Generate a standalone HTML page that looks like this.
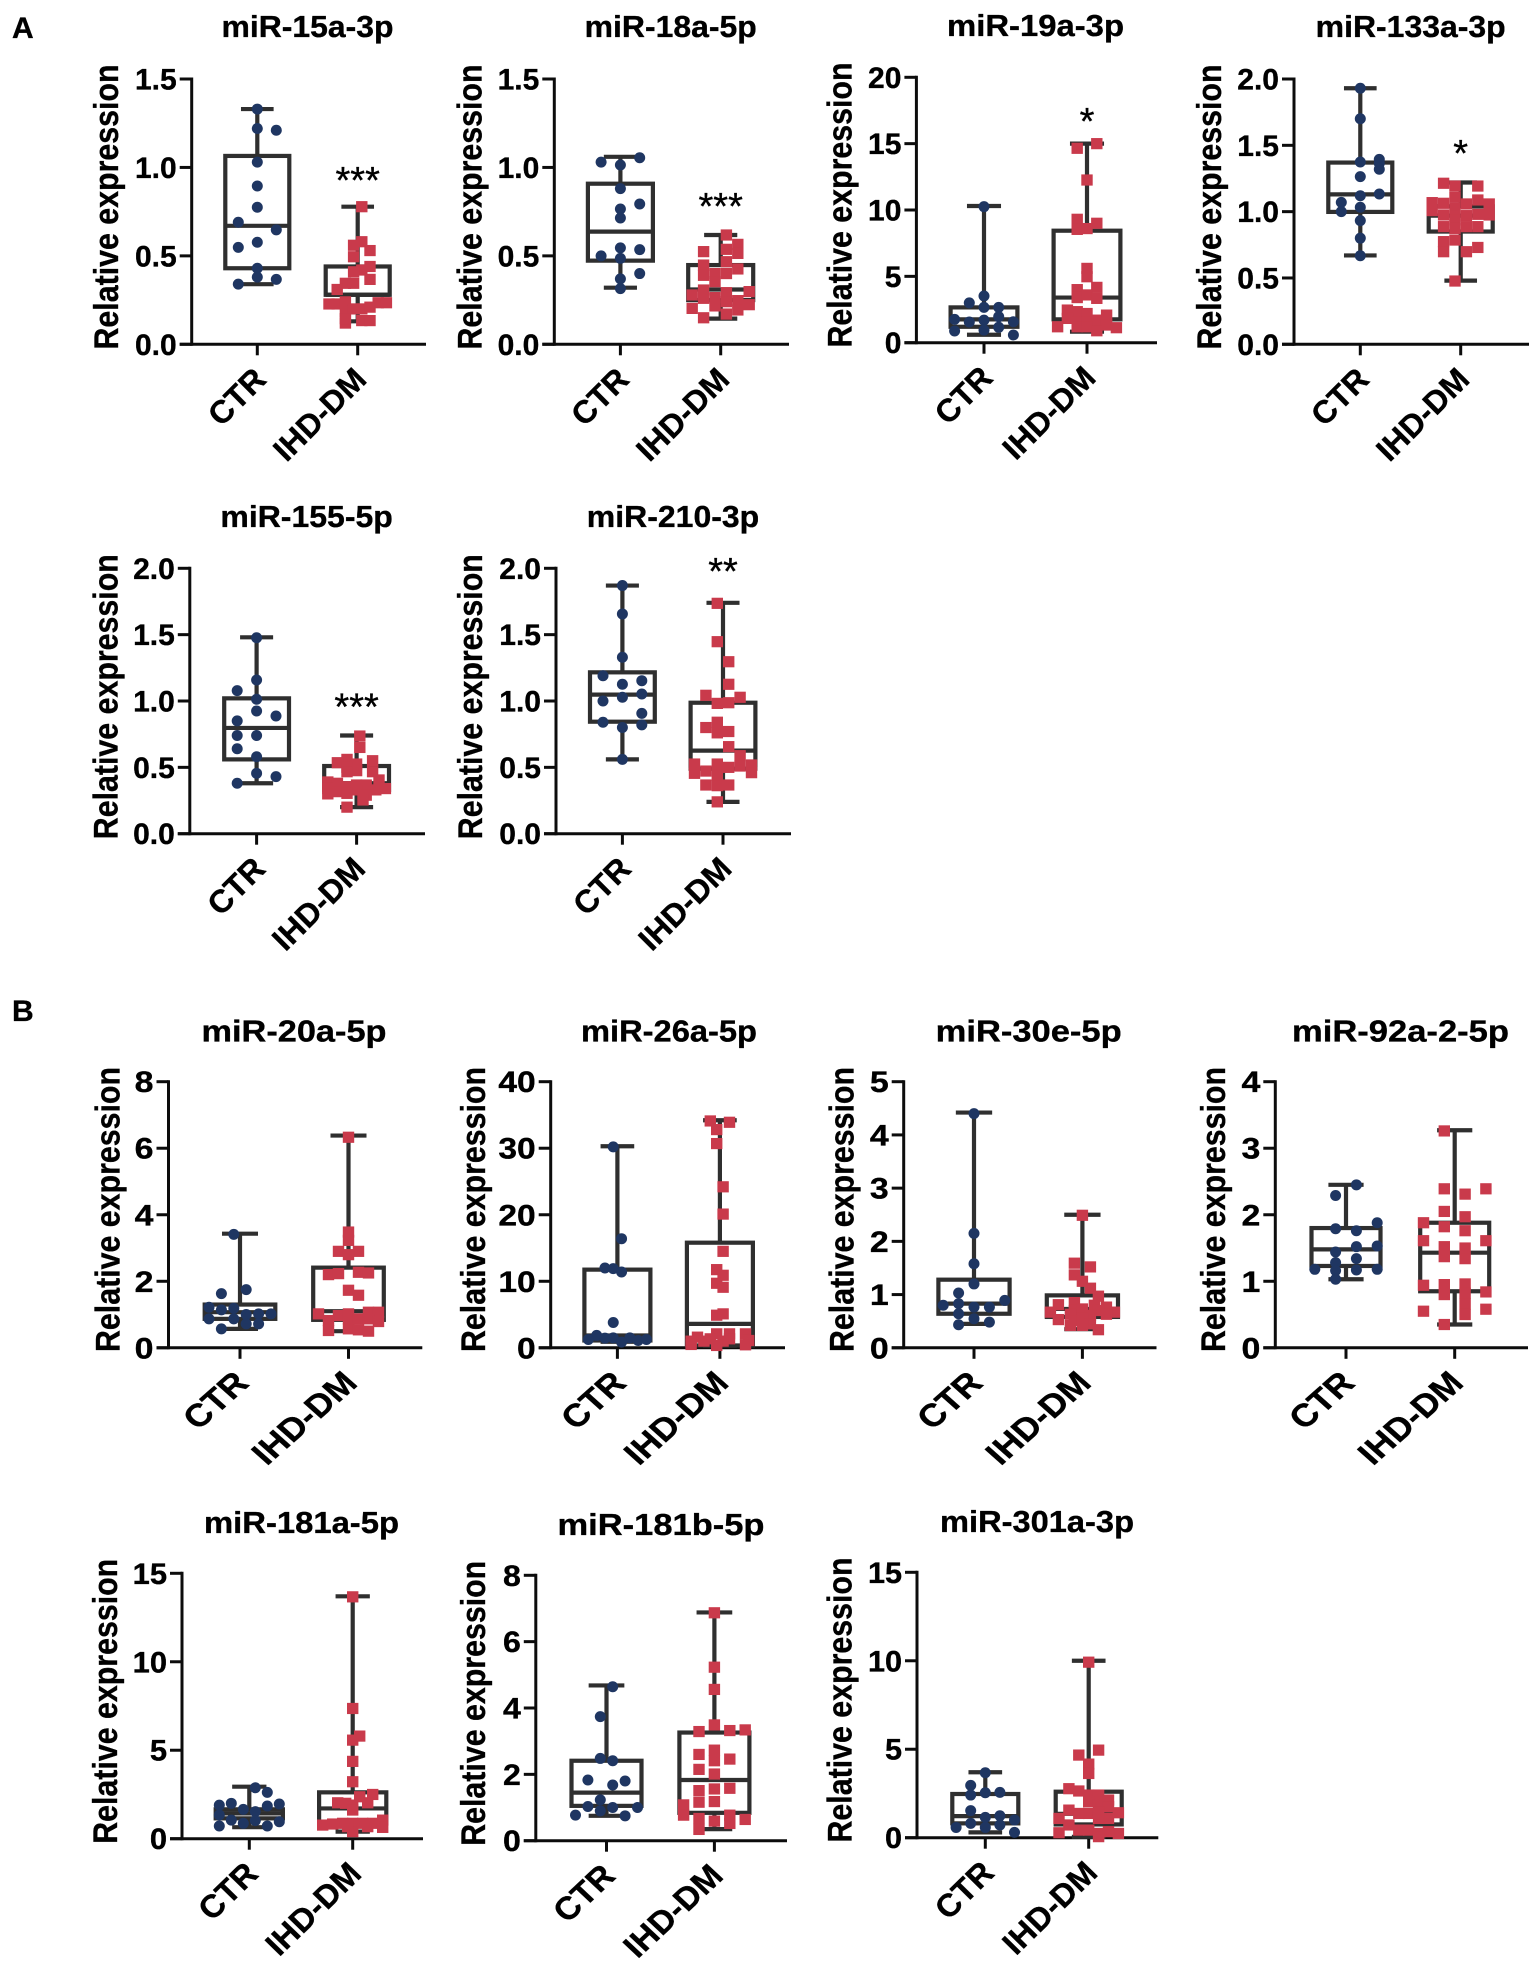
<!DOCTYPE html>
<html lang="en">
<head>
<meta charset="utf-8">
<title>Relative expression of miRNAs in CTR and IHD-DM groups</title>
<style>
html,body{margin:0;padding:0;background:#fff;}
svg{display:block;}
text{font-family:"Liberation Sans",Arial,sans-serif;fill:#000;stroke:#000;stroke-width:0.35px;}
</style>
</head>
<body>
<svg id="figure" xmlns="http://www.w3.org/2000/svg" width="1535" height="1961" viewBox="0 0 1535 1961">
<rect x="0" y="0" width="1535" height="1961" fill="#ffffff"/>
<text x="12" y="38" font-size="30" font-weight="700">A</text>
<text x="12" y="1021" font-size="30" font-weight="700">B</text>
</svg>
<script>
const categoryLabels = ['CTR', 'IHD-DM'];

const yTicks15a = ['0.0', '0.5', '1.0', '1.5'];
const ctr15a = [1.33, 1.22, 1.21, 1.03, 0.895, 0.775, 0.69, 0.647, 0.577, 0.548, 0.43, 0.38, 0.367, 0.34];
const ctrSwarm15a = [0, 0, 1, 0, 0, 0, -1, 1, 0, -1, 0, 0, 1, -1];
const ctrBox15a = [0.34, 0.43, 0.67, 1.065, 1.33];
const dm15a = [0.778, 0.58, 0.56, 0.53, 0.495, 0.44, 0.42, 0.41, 0.367, 0.345, 0.345, 0.31, 0.228, 0.228, 0.24, 0.185, 0.2, 0.2, 0.21, 0.235, 0.235, 0.12, 0.134, 0.134, 0.145];
const dmSwarm15a = [1, 1, -1, 3, -1, 3, 1, -1, 3, -3, -1, -5, -7, -5, -3, -3, -1, 1, 3, 5, 7, -3, 1, 3, -3];
const dmBox15a = [0.13, 0.28, 0.28, 0.44, 0.778];

const yTicks18a = ['0.0', '0.5', '1.0', '1.5'];
const ctr18a = [1.055, 1.03, 1.014, 0.88, 0.765, 0.793, 0.714, 0.545, 0.535, 0.5, 0.486, 0.4, 0.37, 0.315];
const ctrSwarm18a = [1, -1, 0, 0, 0, 1, 0, 0, 1, -1, 0, 1, 0, 0];
const ctrBox18a = [0.32, 0.473, 0.637, 0.908, 1.06];
const dm18a = [0.618, 0.565, 0.514, 0.537, 0.524, 0.467, 0.448, 0.426, 0.4, 0.4, 0.39, 0.354, 0.307, 0.298, 0.292, 0.279, 0.26, 0.264, 0.247, 0.241, 0.217, 0.224, 0.203, 0.194, 0.171, 0.15];
const dmSwarm18a = [1, 3, 3, 1, -3, 1, -3, 3, -1, 1, -3, -1, -3, 5, 1, -5, -3, -1, 3, 1, -1, 5, -5, 3, 1, -3];
const dmBox18a = [0.145, 0.25, 0.31, 0.448, 0.618];

const yTicks19a = ['0', '5', '10', '15', '20'];
const ctr19a = [10.25, 3.52, 3.0, 2.66, 2.66, 1.76, 1.96, 1.56, 1.7, 1.58, 1.16, 0.95, 0.88, 0.58];
const ctrSwarm19a = [0, 0, -1, 0, 1, -2, 1, -1, 0, 2, 1, 0, -2, 2];
const ctrBox19a = [0.6, 1.2, 1.76, 2.66, 10.3];
const dm19a = [15.0, 14.65, 12.26, 9.3, 9.0, 8.54, 8.6, 5.6, 4.97, 4.0, 4.17, 3.4, 3.6, 3.34, 2.46, 2.34, 2.2, 2.08, 1.83, 1.58, 1.58, 1.7, 1.33, 1.2, 1.2, 1.2, 0.9, 1.13];
const dmSwarm19a = [1, -1, 0, -1, 1, -1, 0, 0, 0, -1, 1, -1, 0, 1, -2, -1, 0, 2, -2, -1, 0, 1, 2, -3, -1, 0, 1, 3];
const dmBox19a = [0.83, 1.76, 3.4, 8.44, 15.0];

const yTicks133a = ['0.0', '0.5', '1.0', '1.5', '2.0'];
const ctr133a = [1.93, 1.7, 1.374, 1.394, 1.364, 1.32, 1.264, 1.12, 1.133, 1.07, 1.033, 1.0, 0.932, 0.8, 0.668];
const ctrSwarm133a = [0, 0, 0, 1, 1, 1, 0, 0, 1, -1, 0, -1, 0, 0, 0];
const ctrBox133a = [0.67, 0.998, 1.13, 1.37, 1.93];
const dm133a = [1.214, 1.193, 1.193, 1.108, 1.088, 1.068, 1.063, 1.058, 1.058, 1.025, 1.008, 0.975, 0.967, 0.97, 0.98, 0.975, 0.937, 0.887, 0.874, 0.887, 0.887, 0.774, 0.786, 0.698, 0.698, 0.73, 0.477];
const dmSwarm133a = [-3, -1, 3, -1, 3, -5, -3, 1, 5, -1, -5, -3, -1, 1, 3, 5, -1, -3, -1, 1, 3, -3, -1, -3, 1, 3, -1];
const dmBox133a = [0.48, 0.85, 0.97, 1.04, 1.22];

const yTicks155 = ['0.0', '0.5', '1.0', '1.5', '2.0'];
const ctr155 = [1.477, 1.158, 1.078, 1.013, 0.925, 0.887, 0.85, 0.74, 0.74, 0.64, 0.58, 0.455, 0.43, 0.38];
const ctrSwarm155 = [0, 0, -1, 0, 0, 1, -1, -1, 0, -1, 0, 0, 1, -1];
const ctrBox155 = [0.38, 0.56, 0.797, 1.02, 1.48];
const dm155 = [0.736, 0.65, 0.56, 0.55, 0.535, 0.525, 0.5, 0.475, 0.467, 0.467, 0.39, 0.405, 0.38, 0.367, 0.367, 0.354, 0.34, 0.34, 0.317, 0.33, 0.33, 0.3, 0.304, 0.29, 0.254, 0.2];
const dmSwarm155 = [1, 1, -3, 5, -6, 0, -3, 0, 5, -3, -9, 7, -6, 0, 3, -3, 9, -9, -6, 0, 6, -9, -3, 3, 2, -3];
const dmBox155 = [0.2, 0.33, 0.38, 0.51, 0.74];

const yTicks210 = ['0.0', '0.5', '1.0', '1.5', '2.0'];
const ctr210 = [1.87, 1.656, 1.33, 1.19, 1.153, 1.126, 1.053, 1.028, 1.0, 0.907, 0.84, 0.82, 0.8, 0.56];
const ctrSwarm210 = [0, 0, 0, -1, 1, 0, 1, 0, -1, 1, -1, 1, 0, 0];
const ctrBox210 = [0.56, 0.844, 1.048, 1.216, 1.87];
const dm210 = [1.736, 1.447, 1.296, 1.126, 1.043, 1.028, 0.982, 0.987, 0.84, 0.8, 0.76, 0.77, 0.656, 0.588, 0.525, 0.525, 0.51, 0.518, 0.455, 0.472, 0.5, 0.46, 0.442, 0.367, 0.362, 0.367, 0.24];
const dmSwarm210 = [-1, -1, 1, 1, -3, 3, -1, 1, -1, -3, -1, 1, 1, 3, -5, -1, 3, 5, -5, -3, 1, 5, -1, -3, -1, 1, -1];
const dmBox210 = [0.24, 0.49, 0.626, 0.987, 1.74];

const yTicks20a = ['0', '2', '4', '6', '8'];
const ctr20a = [3.41, 1.75, 1.63, 1.22, 1.14, 1.19, 0.87, 0.87, 1.0, 1.02, 1.02, 0.72, 0.72, 0.57];
const ctrSwarm20a = [-1, 1, -3, -5, -3, -1, -5, -1, 1, 3, 5, 1, 3, -3];
const ctrBox20a = [0.57, 0.87, 1.07, 1.3, 3.43];
const dm20a = [6.33, 3.48, 3.23, 2.9, 2.9, 2.8, 2.2, 2.23, 2.27, 2.25, 1.73, 1.58, 1.02, 0.97, 1.02, 1.07, 1.07, 0.82, 0.87, 0.87, 0.87, 0.79, 0.52, 0.57, 0.54, 0.5];
const dmSwarm20a = [0, 0, 0, -1, 1, 0, -2, -1, 1, 2, 0, 1, -3, -1, 0, 2, 3, -2, 0, 1, 2, 3, -2, 0, 1, 2];
const dmBox20a = [0.5, 0.84, 1.1, 2.41, 6.38];

const yTicks26a = ['0', '10', '20', '30', '40'];
const ctr26a = [30.2, 16.4, 12.0, 11.9, 11.4, 3.8, 1.86, 1.25, 1.45, 1.5, 1.5, 1.1, 1.25, 0.85];
const ctrSwarm26a = [-1, 1, -3, -1, 1, -1, -5, -7, -3, -1, 3, 5, 7, 1];
const ctrBox26a = [0.9, 1.1, 1.85, 11.75, 30.3];
const dm26a = [34.1, 33.9, 32.8, 30.7, 24.2, 20.1, 14.5, 11.75, 10.9, 9.7, 9.1, 4.9, 5.1, 2.1, 2.1, 1.6, 1.35, 2.1, 1.35, 1.0, 1.0, 1.0, 1.1, 0.5, 0.35, 0.45];
const dmSwarm26a = [-3, 3, -1, -1, 1, 1, 1, -1, 1, -1, 1, -1, 1, -1, 3, -7, -3, 8, 3, -9, -5, 1, 9, -9, -1, 8];
const dmBox26a = [0.3, 0.35, 3.6, 15.8, 34.2];

const yTicks30e = ['0', '1', '2', '3', '4', '5'];
const ctr30e = [4.4, 2.15, 1.58, 1.2, 1.03, 0.89, 0.8, 0.83, 0.765, 0.765, 0.64, 0.546, 0.483, 0.433];
const ctrSwarm30e = [0, 0, 0, 0, -1, 2, -2, -1, 0, 1, -1, 0, 1, -1];
const ctrBox30e = [0.45, 0.64, 0.83, 1.28, 4.42];
const dm30e = [2.49, 1.59, 1.52, 1.37, 1.25, 1.12, 0.97, 0.81, 0.85, 0.8, 0.765, 0.7, 0.7, 0.73, 0.67, 0.67, 0.63, 0.61, 0.63, 0.53, 0.51, 0.55, 0.42, 0.45, 0.34, 0.42];
const dmSwarm30e = [0, -2, 2, -2, 0, 2, 4, -6, -2, 3, 6, 4, -2, 0, -8, 8, -3, 2, 6, -6, -2, 0, -3, 2, 4, 0];
const dmBox30e = [0.35, 0.58, 0.73, 0.985, 2.5];

const yTicks92a = ['0', '1', '2', '3', '4'];
const ctr92a = [2.45, 2.29, 1.88, 1.79, 1.76, 1.53, 1.52, 1.44, 1.34, 1.28, 1.18, 1.16, 1.17, 1.18, 1.03];
const ctrSwarm92a = [1, -1, 3, -1, 1, 3, 1, -1, 1, -1, -3, -1, 1, 3, -1];
const ctrBox92a = [1.03, 1.23, 1.48, 1.8, 2.45];
const dm92a = [3.26, 2.39, 2.39, 2.31, 2.05, 1.97, 1.88, 1.82, 1.76, 1.61, 1.61, 1.52, 1.5, 1.37, 1.34, 0.94, 0.95, 0.96, 0.84, 0.8, 0.82, 0.66, 0.58, 0.55, 0.5, 0.35];
const dmSwarm92a = [-1, -1, 3, 1, -1, 1, -3, -1, 1, -3, 3, -1, 1, -1, 1, -3, -1, 1, 3, -1, 1, 1, 3, -3, 1, -1];
const dmBox92a = [0.35, 0.85, 1.43, 1.88, 3.27];

const yTicks181a = ['0', '5', '10', '15'];
const ctr181a = [2.88, 2.62, 1.9, 2.0, 1.96, 1.85, 1.66, 1.34, 1.53, 1.05, 1.02, 0.96, 0.87, 0.72, 0.72];
const ctrSwarm181a = [1, 3, -5, -3, 5, 3, -1, -5, 1, -3, 1, 5, -1, -5, 3];
const ctrBox181a = [0.65, 1.15, 1.43, 1.66, 2.94];
const dm181a = [13.67, 7.36, 5.8, 5.57, 4.37, 3.22, 2.5, 2.37, 2.03, 2.0, 2.03, 1.9, 1.62, 0.77, 0.83, 0.87, 0.87, 0.87, 0.87, 1.05, 0.64, 0.68, 0.4, 0.68];
const dmSwarm181a = [0, 0, 0.7, 0, 0, 0, 2, 0.7, -1.5, -0.7, 1.5, 0, 0, -3, -2, -1, 0, 1, 2, 3, 3, 1.5, 0, -0.5];
const dmBox181a = [0.4, 0.87, 1.71, 2.62, 13.7];

const yTicks181b = ['0', '2', '4', '6', '8'];
const ctr181b = [4.64, 3.74, 2.48, 2.41, 1.83, 1.8, 1.68, 1.23, 1.03, 1.0, 1.0, 0.9, 0.77, 0.75];
const ctrSwarm181b = [1, -1, -1, 1, -3, 3, 1, -1, -3, 1, 5, -1, -5, 3];
const ctrBox181b = [0.75, 1.05, 1.45, 2.41, 4.68];
const dm181b = [6.87, 5.23, 4.56, 3.49, 3.29, 3.32, 3.34, 2.73, 2.6, 2.41, 2.46, 2.15, 2.01, 1.51, 1.56, 1.58, 1.18, 1.16, 1.08, 0.77, 0.67, 0.77, 0.64, 0.59, 0.52, 0.34];
const dmSwarm181b = [0, 0, 0, 0, -1, 1, 2, 0, -1, 0, 1, -1, 0, -1, 0, 1, 0, -1, -2, -2, -1, 1, 2, 0, 1, -1];
const dmBox181b = [0.35, 0.84, 1.83, 3.26, 6.88];

const yTicks301a = ['0', '5', '10', '15'];
const ctr301a = [3.67, 2.96, 2.41, 2.54, 2.56, 1.53, 1.24, 1.15, 1.0, 0.81, 0.72, 0.58, 0.58, 0.3];
const ctrSwarm301a = [0, -1, -1, 0, 1, -1, 1, 0, 2, -1, 1, 0, -2, 2];
const ctrBox301a = [0.3, 0.81, 1.22, 2.47, 3.7];
const dm301a = [9.92, 4.95, 4.67, 4.16, 3.63, 2.77, 2.64, 2.41, 2.41, 2.13, 2.03, 1.85, 1.75, 1.56, 1.37, 1.37, 1.47, 1.41, 1.09, 1.09, 1.09, 0.72, 0.43, 0.43, 0.28, 0.24, 0.24, 0.34, 0.06];
const dmSwarm301a = [0, 1, -1, 0, 0, -2, -1, 0, 1, 2, 0, 1, 2, -2, -1, 0, 1, 3, -3, 2, 1, -2, 0, -1, -3, 1, 3, 2, 1];
const dmBox301a = [0.05, 0.75, 1.35, 2.6, 10.0];

const panels = [
  {id:'mir-15a-3p', title:'miR-15a-3p', ticks:yTicks15a, ctr:ctr15a, ctrS:ctrSwarm15a, ctrB:ctrBox15a, dm:dm15a, dmS:dmSwarm15a, dmB:dmBox15a, stars:'***', starY:174, ax:191.7, y0:344.3, yt:79, xe:426, c1:257.3, c2:357.7, tx:307.5, ty:37, tw:172, lx:118, ly:207, hw:32, cs:19, ds:4.1, sx:1},
  {id:'mir-18a-5p', title:'miR-18a-5p', ticks:yTicks18a, ctr:ctr18a, ctrS:ctrSwarm18a, ctrB:ctrBox18a, dm:dm18a, dmS:dmSwarm18a, dmB:dmBox18a, stars:'***', starY:200, ax:554.3, y0:344.3, yt:79, xe:789, c1:620.4, c2:720.7, tx:670.7, ty:37, tw:172, lx:481.7, ly:207, hw:32.5, cs:19.3, ds:5.7, sx:1},
  {id:'mir-19a-3p', title:'miR-19a-3p', ticks:yTicks19a, ctr:ctr19a, ctrS:ctrSwarm19a, ctrB:ctrBox19a, dm:dm19a, dmS:dmSwarm19a, dmB:dmBox19a, stars:'*', starY:115, ax:916.4, y0:342.7, yt:77.3, xe:1157, c1:984, c2:1087, tx:1035.5, ty:36, tw:177, lx:851.4, ly:205, hw:33.4, cs:14.7, ds:9.8, sx:1},
  {id:'mir-133a-3p', title:'miR-133a-3p', ticks:yTicks133a, ctr:ctr133a, ctrS:ctrSwarm133a, ctrB:ctrBox133a, dm:dm133a, dmS:dmSwarm133a, dmB:dmBox133a, stars:'*', starY:147, ax:1294, y0:344.3, yt:79, xe:1529, c1:1360.3, c2:1460.7, tx:1410.7, ty:37, tw:190, lx:1221, ly:207, hw:32, cs:19, ds:5.7, sx:1},
  {id:'mir-155-5p', title:'miR-155-5p', ticks:yTicks155, ctr:ctr155, ctrS:ctrSwarm155, ctrB:ctrBox155, dm:dm155, dmS:dmSwarm155, dmB:dmBox155, stars:'***', starY:700.7, ax:189.8, y0:833.7, yt:568.3, xe:425, c1:256.6, c2:356.6, tx:306.6, ty:527, tw:172.4, lx:117.3, ly:696.7, hw:32.4, cs:19.4, ds:3.2, sx:1},
  {id:'mir-210-3p', title:'miR-210-3p', ticks:yTicks210, ctr:ctr210, ctrS:ctrSwarm210, ctrB:ctrBox210, dm:dm210, dmS:dmSwarm210, dmB:dmBox210, stars:'**', starY:565, ax:556, y0:833.7, yt:568.3, xe:791, c1:622.4, c2:723, tx:673, ty:527, tw:172.4, lx:482, ly:696.7, hw:32.4, cs:19.4, ds:5.7, sx:1},
  {id:'mir-20a-5p', title:'miR-20a-5p', ticks:yTicks20a, ctr:ctr20a, ctrS:ctrSwarm20a, ctrB:ctrBox20a, dm:dm20a, dmS:dmSwarm20a, dmB:dmBox20a, stars:'', starY:0, ax:168.5, y0:1347.8, yt:1081.7, xe:422.3, c1:240, c2:348.5, tx:294, ty:1041.5, tw:185, lx:119.3, ly:1209.5, hw:35.3, cs:6.2, ds:10, sx:1.13},
  {id:'mir-26a-5p', title:'miR-26a-5p', ticks:yTicks26a, ctr:ctr26a, ctrS:ctrSwarm26a, ctrB:ctrBox26a, dm:dm26a, dmS:dmSwarm26a, dmB:dmBox26a, stars:'', starY:0, ax:550.7, y0:1347.8, yt:1081.7, xe:785, c1:617.4, c2:719.9, tx:669, ty:1041.5, tw:176, lx:485, ly:1209.5, hw:33, cs:4.15, ds:3.2, sx:1.12},
  {id:'mir-30e-5p', title:'miR-30e-5p', ticks:yTicks30e, ctr:ctr30e, ctrS:ctrSwarm30e, ctrB:ctrBox30e, dm:dm30e, dmS:dmSwarm30e, dmB:dmBox30e, stars:'', starY:0, ax:903.7, y0:1347.8, yt:1081.7, xe:1156.5, c1:974, c2:1082.4, tx:1028.7, ty:1041.5, tw:186, lx:853.7, ly:1209.5, hw:35.6, cs:15.4, ds:4, sx:1.13},
  {id:'mir-92a-2-5p', title:'miR-92a-2-5p', ticks:yTicks92a, ctr:ctr92a, ctrS:ctrSwarm92a, ctrB:ctrBox92a, dm:dm92a, dmS:dmSwarm92a, dmB:dmBox92a, stars:'', starY:0, ax:1275.3, y0:1347.8, yt:1081.7, xe:1528, c1:1346, c2:1454.7, tx:1400.5, ty:1041.5, tw:217, lx:1225, ly:1209.5, hw:34.5, cs:10.4, ds:10.4, sx:1.13},
  {id:'mir-181a-5p', title:'miR-181a-5p', ticks:yTicks181a, ctr:ctr181a, ctrS:ctrSwarm181a, ctrB:ctrBox181a, dm:dm181a, dmS:dmSwarm181a, dmB:dmBox181a, stars:'', starY:0, ax:182, y0:1838.7, yt:1573.3, xe:423, c1:249.3, c2:352.7, tx:301.5, ty:1533, tw:195, lx:117, ly:1701.3, hw:33.6, cs:6, ds:10, sx:1.03},
  {id:'mir-181b-5p', title:'miR-181b-5p', ticks:yTicks181b, ctr:ctr181b, ctrS:ctrSwarm181b, ctrB:ctrBox181b, dm:dm181b, dmS:dmSwarm181b, dmB:dmBox181b, stars:'', starY:0, ax:535.8, y0:1840.7, yt:1575.3, xe:787, c1:606.5, c2:714.4, tx:661, ty:1535, tw:207, lx:485, ly:1703.3, hw:35, cs:6.2, ds:15.4, sx:1.07},
  {id:'mir-301a-3p', title:'miR-301a-3p', ticks:yTicks301a, ctr:ctr301a, ctrS:ctrSwarm301a, ctrB:ctrBox301a, dm:dm301a, dmS:dmSwarm301a, dmB:dmBox301a, stars:'', starY:0, ax:917, y0:1837.7, yt:1572.3, xe:1158.3, c1:985.3, c2:1088.7, tx:1037, ty:1532, tw:194, lx:851.7, ly:1700, hw:33, cs:14.6, ds:9.9, sx:1.02}
];

const NAVY = '#1f3662';
const RED = '#c93a4b';
const BOXC = '#2f2f2f';
const AXISC = '#0c0c0c';
const svgNS = 'http://www.w3.org/2000/svg';
const root = document.getElementById('figure');

function make(parent, tag, attrs, content) {
  const el = document.createElementNS(svgNS, tag);
  for (const k in attrs) el.setAttribute(k, attrs[k]);
  if (content !== undefined) el.textContent = content;
  parent.appendChild(el);
  return el;
}

function yScale(p, v) {
  const maxV = parseFloat(p.ticks[p.ticks.length - 1]);
  return p.y0 - (v / maxV) * (p.y0 - p.yt);
}

function drawBox(g, p, cx, stats, group) {
  const [mn, q1, med, q3, mx] = stats;
  const capHalf = p.hw * 0.51;
  const yMin = yScale(p, mn), yQ1 = yScale(p, q1), yMed = yScale(p, med), yQ3 = yScale(p, q3), yMax = yScale(p, mx);
  const upper = make(g, 'line', {x1:cx, x2:cx, y1:yQ3, y2:yMax, stroke:BOXC, 'stroke-width':4.2});
  
  
  const lower = make(g, 'line', {x1:cx, x2:cx, y1:yQ1, y2:yMin, stroke:BOXC, 'stroke-width':4.2});
  
  
  const capTop = make(g, 'line', {x1:cx - capHalf, x2:cx + capHalf, y1:yMax, y2:yMax, stroke:BOXC, 'stroke-width':4.2});
  
  
  const capBottom = make(g, 'line', {x1:cx - capHalf, x2:cx + capHalf, y1:yMin, y2:yMin, stroke:BOXC, 'stroke-width':4.2});
  
  
  const box = make(g, 'rect', {x:cx - p.hw, y:yQ3, width:2 * p.hw, height:Math.max(0, yQ1 - yQ3), fill:'none', stroke:BOXC, 'stroke-width':4.2});
  
  
  const median = make(g, 'line', {x1:cx - p.hw, x2:cx + p.hw, y1:yMed, y2:yMed, stroke:BOXC, 'stroke-width':4.2});
  
  
}

panels.forEach(function (p) {
  const g = make(root, 'g', {});
  
  

  const title = make(g, 'text', {x:p.tx, y:p.ty, 'font-size':31, 'font-weight':700, 'text-anchor':'middle', textLength:p.tw, lengthAdjust:'spacingAndGlyphs'}, p.title);
  
  

  const yTitle = make(g, 'text', {transform:'translate(' + p.lx + ',' + p.ly + ') rotate(-90)', 'font-size':34.5, 'font-weight':700, 'text-anchor':'middle', textLength:285, lengthAdjust:'spacingAndGlyphs'}, 'Relative expression');
  
  

  p.ticks.forEach(function (label) {
    const y = yScale(p, parseFloat(label));
    const tick = make(g, 'line', {x1:p.ax - 12, x2:p.ax, y1:y, y2:y, stroke:AXISC, 'stroke-width':3});
    
    
    const text = make(g, 'text', {transform:'translate(' + (p.ax - 15) + ',' + (y + 10.5) + ') scale(' + p.sx + ',1)', 'font-size':30, 'font-weight':700, 'text-anchor':'end'}, label);
    
    
  });

  const yAxis = make(g, 'line', {x1:p.ax, x2:p.ax, y1:p.yt - 1.5, y2:p.y0 + 1.5, stroke:AXISC, 'stroke-width':3});
  
  
  const xAxis = make(g, 'line', {x1:p.ax - 12, x2:p.xe, y1:p.y0, y2:p.y0, stroke:AXISC, 'stroke-width':3});
  
  

  [p.c1, p.c2].forEach(function (cx, i) {
    const tick = make(g, 'line', {x1:cx, x2:cx, y1:p.y0, y2:p.y0 + 11, stroke:AXISC, 'stroke-width':3});
    
    
    const lab = make(g, 'text', {transform:'translate(' + (cx + 10.5) + ',' + (p.y0 + 37) + ') scale(' + p.sx + ',1) rotate(-45)', 'font-size':32, 'font-weight':700, 'text-anchor':'end'}, categoryLabels[i]);
    
    
  });

  drawBox(g, p, p.c1, p.ctrB, 'ctr');
  drawBox(g, p, p.c2, p.dmB, 'ihd-dm');

  p.ctr.forEach(function (v, i) {
    const dot = make(g, 'circle', {cx:p.c1 + p.ctrS[i] * p.cs, cy:yScale(p, v), r:5.5, fill:NAVY});
    
    
  });
  p.dm.forEach(function (v, i) {
    const sq = make(g, 'rect', {x:p.c2 + p.dmS[i] * p.ds - 5.7, y:yScale(p, v) - 5.6, width:11.4, height:11.2, fill:RED});
    
    
  });

  if (p.stars) {
    const stars = make(g, 'text', {x:p.c2, y:p.starY + 19, 'font-size':38, 'text-anchor':'middle'}, p.stars);
    
    
  }
});
</script>
</body>
</html>
